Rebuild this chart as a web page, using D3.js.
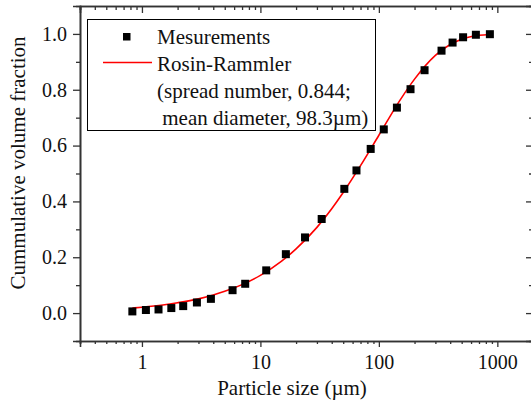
<!DOCTYPE html>
<html>
<head>
<meta charset="utf-8">
<script src="https://cdn.jsdelivr.net/npm/d3@7"></script>
<style>
  body { margin: 0; background: #fff; }
  svg { display: block; }
  .axis path, .axis line { stroke: #333; }
</style>
</head>
<body>
<svg id="chart" width="531" height="405"></svg>
<script>
// measured particle sizes (um) and cumulative volume fraction
const sizes = [0.83, 1.08, 1.38, 1.77, 2.23, 2.91, 3.82, 5.82, 7.44, 11.2, 16.4, 23.8, 32.9,
  51.1, 64.7, 85.3, 110, 142, 185, 243, 338, 419, 514, 659, 865];
const fractions = [0.006, 0.011, 0.013, 0.018, 0.025, 0.038, 0.051, 0.082, 0.105, 0.153, 0.211,
  0.271, 0.337, 0.445, 0.511, 0.588, 0.658, 0.736, 0.802, 0.870, 0.940, 0.969, 0.988, 0.997, 0.999];

// Rosin-Rammler curve
const fitSizes = [0.83, 1, 1.5, 2, 3, 4, 5, 7, 10, 15, 20, 30, 40, 50, 70, 100, 150, 200, 300, 400, 500, 700, 865];
const fitValues = [0.018, 0.021, 0.029, 0.037, 0.051, 0.065, 0.078, 0.102, 0.135, 0.185, 0.230,
  0.307, 0.374, 0.432, 0.528, 0.637, 0.761, 0.838, 0.923, 0.962, 0.981, 0.995, 0.998];

const xMajor = [1, 10, 100, 1000];
const yMajor = [0, 0.2, 0.4, 0.6, 0.8, 1.0];
const yMinor = [0.1, 0.3, 0.5, 0.7, 0.9];

const legendLabels = ["Mesurements", "Rosin-Rammler", "(spread number, 0.844;", " mean diameter, 98.3\u00b5m)"];

const serif = '"Liberation Serif", "Times New Roman", serif';
const svg = d3.select("#chart");
const mLeft = 80, mRight = 533, mTop = 6, mBottom = 341;

const x = d3.scaleLog().domain([0.3, 2000]).range([mLeft, mRight]);
const y = d3.scaleLinear().domain([-0.1, 1.1]).range([mBottom, mTop]);

const xMinor = x.ticks().filter(d => xMajor.indexOf(d) < 0);

function styleAxis(g) {
  g.attr("font-family", null);
  g.select(".domain").attr("stroke-width", 1.6);
  g.selectAll(".tick line").attr("stroke-width", 1.3);
  g.selectAll(".tick text").attr("fill", "#111").attr("font-size", 20).style("font-family", serif);
}

// bottom
svg.append("g").attr("class", "axis").attr("transform", `translate(0,${mBottom})`)
  .call(d3.axisBottom(x).tickValues(xMajor).tickSize(6).tickPadding(8).tickFormat(d3.format("d")))
  .call(styleAxis);
svg.append("g").attr("class", "axis").attr("transform", `translate(0,${mBottom})`)
  .call(d3.axisBottom(x).tickValues(xMinor).tickSize(3).tickFormat(""))
  .call(styleAxis);

// top (ticks pointing in)
svg.append("g").attr("class", "axis").attr("transform", `translate(0,${mTop})`)
  .call(d3.axisBottom(x).tickValues(xMajor).tickSize(7).tickFormat(""))
  .call(styleAxis);
svg.append("g").attr("class", "axis").attr("transform", `translate(0,${mTop})`)
  .call(d3.axisBottom(x).tickValues(xMinor).tickSize(4).tickFormat(""))
  .call(styleAxis);

// left
svg.append("g").attr("class", "axis").attr("transform", `translate(${mLeft},0)`)
  .call(d3.axisLeft(y).tickValues(yMajor).tickSize(7).tickPadding(6).tickFormat(d3.format(".1f")))
  .call(styleAxis);
svg.append("g").attr("class", "axis").attr("transform", `translate(${mLeft},0)`)
  .call(d3.axisLeft(y).tickValues(yMinor).tickSize(4).tickFormat(""))
  .call(styleAxis);

// right (ticks pointing in)
svg.append("g").attr("class", "axis").attr("transform", `translate(${mRight},0)`)
  .call(d3.axisLeft(y).tickValues(yMajor).tickSize(7).tickFormat(""))
  .call(styleAxis);
svg.append("g").attr("class", "axis").attr("transform", `translate(${mRight},0)`)
  .call(d3.axisLeft(y).tickValues(yMinor).tickSize(4).tickFormat(""))
  .call(styleAxis);

// fit curve
const line = d3.line()
  .x(d => x(d[0]))
  .y(d => y(d[1]))
  .curve(d3.curveMonotoneX);
svg.append("path")
  .datum(d3.zip(fitSizes, fitValues))
  .attr("fill", "none")
  .attr("stroke", "#ff0000")
  .attr("stroke-width", 1.6)
  .attr("d", line);

// measurement squares
const sq = 8;
svg.append("g").selectAll("rect")
  .data(d3.zip(sizes, fractions))
  .join("rect")
  .attr("x", d => x(d[0]) - sq / 2)
  .attr("y", d => y(d[1]) - sq / 2)
  .attr("width", sq)
  .attr("height", sq)
  .attr("fill", "#000");

// legend
const lg = svg.append("g");
lg.append("rect")
  .attr("x", 87.5).attr("y", 19.5)
  .attr("width", 288).attr("height", 111)
  .attr("fill", "#fff").attr("stroke", "#000").attr("stroke-width", 1);
lg.append("rect")
  .attr("x", 123).attr("y", 33).attr("width", 7.5).attr("height", 7.5).attr("fill", "#000");
lg.append("line")
  .attr("x1", 103).attr("x2", 152).attr("y1", 62.5).attr("y2", 62.5)
  .attr("stroke", "#ff0000").attr("stroke-width", 1.6);
lg.selectAll("text")
  .data(legendLabels)
  .join("text")
  .attr("x", 157)
  .attr("y", (d, i) => 44 + i * 27)
  .attr("font-size", 21)
  .attr("fill", "#111")
  .style("font-family", serif)
  .style("white-space", "pre")
  .text(d => d);

// axis titles
svg.append("text")
  .attr("x", 292).attr("y", 395)
  .attr("text-anchor", "middle")
  .attr("font-size", 21)
  .attr("fill", "#111")
  .style("font-family", serif)
  .text("Particle size (\u00b5m)");
svg.append("text")
  .attr("transform", "translate(25,163) rotate(-90)")
  .attr("text-anchor", "middle")
  .attr("font-size", 21)
  .attr("fill", "#111")
  .style("font-family", serif)
  .text("Cummulative volume fraction");
</script>
</body>
</html>
